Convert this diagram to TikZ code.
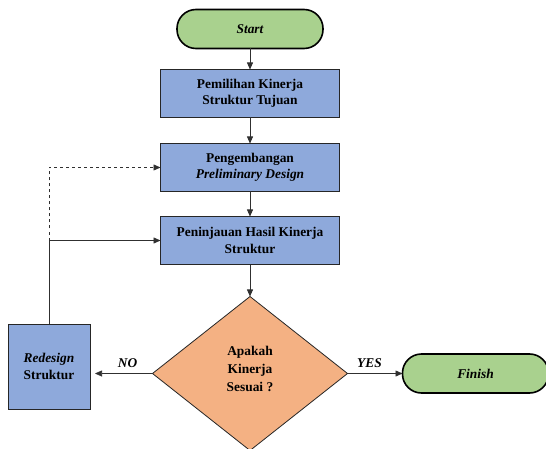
\documentclass[tikz,border=0pt]{standalone}
\usepackage{fontspec}
\setmainfont{Liberation Serif}
\usetikzlibrary{shapes.geometric, arrows.meta, positioning}
\definecolor{boxblue}{HTML}{8EA9DB}
\definecolor{decisionorange}{HTML}{F4B183}
\definecolor{terminalgreen}{HTML}{A9D18E}
\definecolor{edgegray}{HTML}{303030}

\begin{document}
\begin{tikzpicture}[
    x=1pt, y=1pt,
    node distance=21pt,
    outer sep=0pt,
    terminal/.style={
        draw=black, line width=1.6pt, fill=terminalgreen,
        rectangle, rounded corners=19pt,
        minimum width=146pt, minimum height=39pt,
        font=\fontsize{13.4}{16}\selectfont\bfseries\itshape,
    },
    process/.style={
        draw=black!85, line width=1pt, fill=boxblue,
        rectangle, align=center, inner sep=2pt,
        minimum width=179pt, minimum height=48pt,
        font=\fontsize{13.4}{16.5}\selectfont\bfseries,
    },
    decision/.style={
        draw=black!85, line width=0.8pt, fill=decisionorange,
        diamond, aspect=1.27, align=center,
        minimum width=195pt, minimum height=154pt,
        font=\fontsize{13.4}{18}\selectfont\bfseries,
    },
    arrow/.style={-{Triangle[length=7pt, width=6pt]}, line width=0.6pt, draw=edgegray},
    answer/.style={font=\fontsize{13.4}{14}\selectfont\bfseries\itshape, above=3pt},
]
\path[use as bounding box] (0,0) rectangle (546,-449);

\node[terminal] (start) at (250,-29) {Start};

\node[process, below=21pt of start] (target) {%
    Pemilihan Kinerja\\Struktur Tujuan};

\node[process, below=26pt of target] (prelim) {%
    Pengembangan\\\textit{Preliminary Design}};

\node[process, below=25pt of prelim] (review) {%
    Peninjauan Hasil Kinerja\\Struktur};

\node[decision, below=32pt of review] (check) {%
    \raisebox{0pt}{}\\[-22pt]Apakah\\Kinerja\\Sesuai ?};

\node[process, minimum width=82pt, minimum height=85pt] (redesign) at (49,-366.5) {%
    \textit{Redesign}\\Struktur};

\node[terminal, right=55pt of check] (finish) {Finish};

\draw[arrow] (start) -- (target);
\draw[arrow] (target) -- (prelim);
\draw[arrow] (prelim) -- (review);
\draw[arrow] (review) -- (check);
\draw[arrow, shorten >=5pt] (check.west) -- node[answer, pos=0.4] {NO} (check.west -| redesign.east);
\draw[arrow] (check) -- node[answer, pos=0.4] {YES} (finish);

% feedback loop
\coordinate (loop) at (redesign.north |- review.west);
\draw[arrow] (redesign.north) -- (loop) -- (review.west);
\draw[arrow, dashed] (loop) |- (prelim.west);

\end{tikzpicture}
\end{document}
